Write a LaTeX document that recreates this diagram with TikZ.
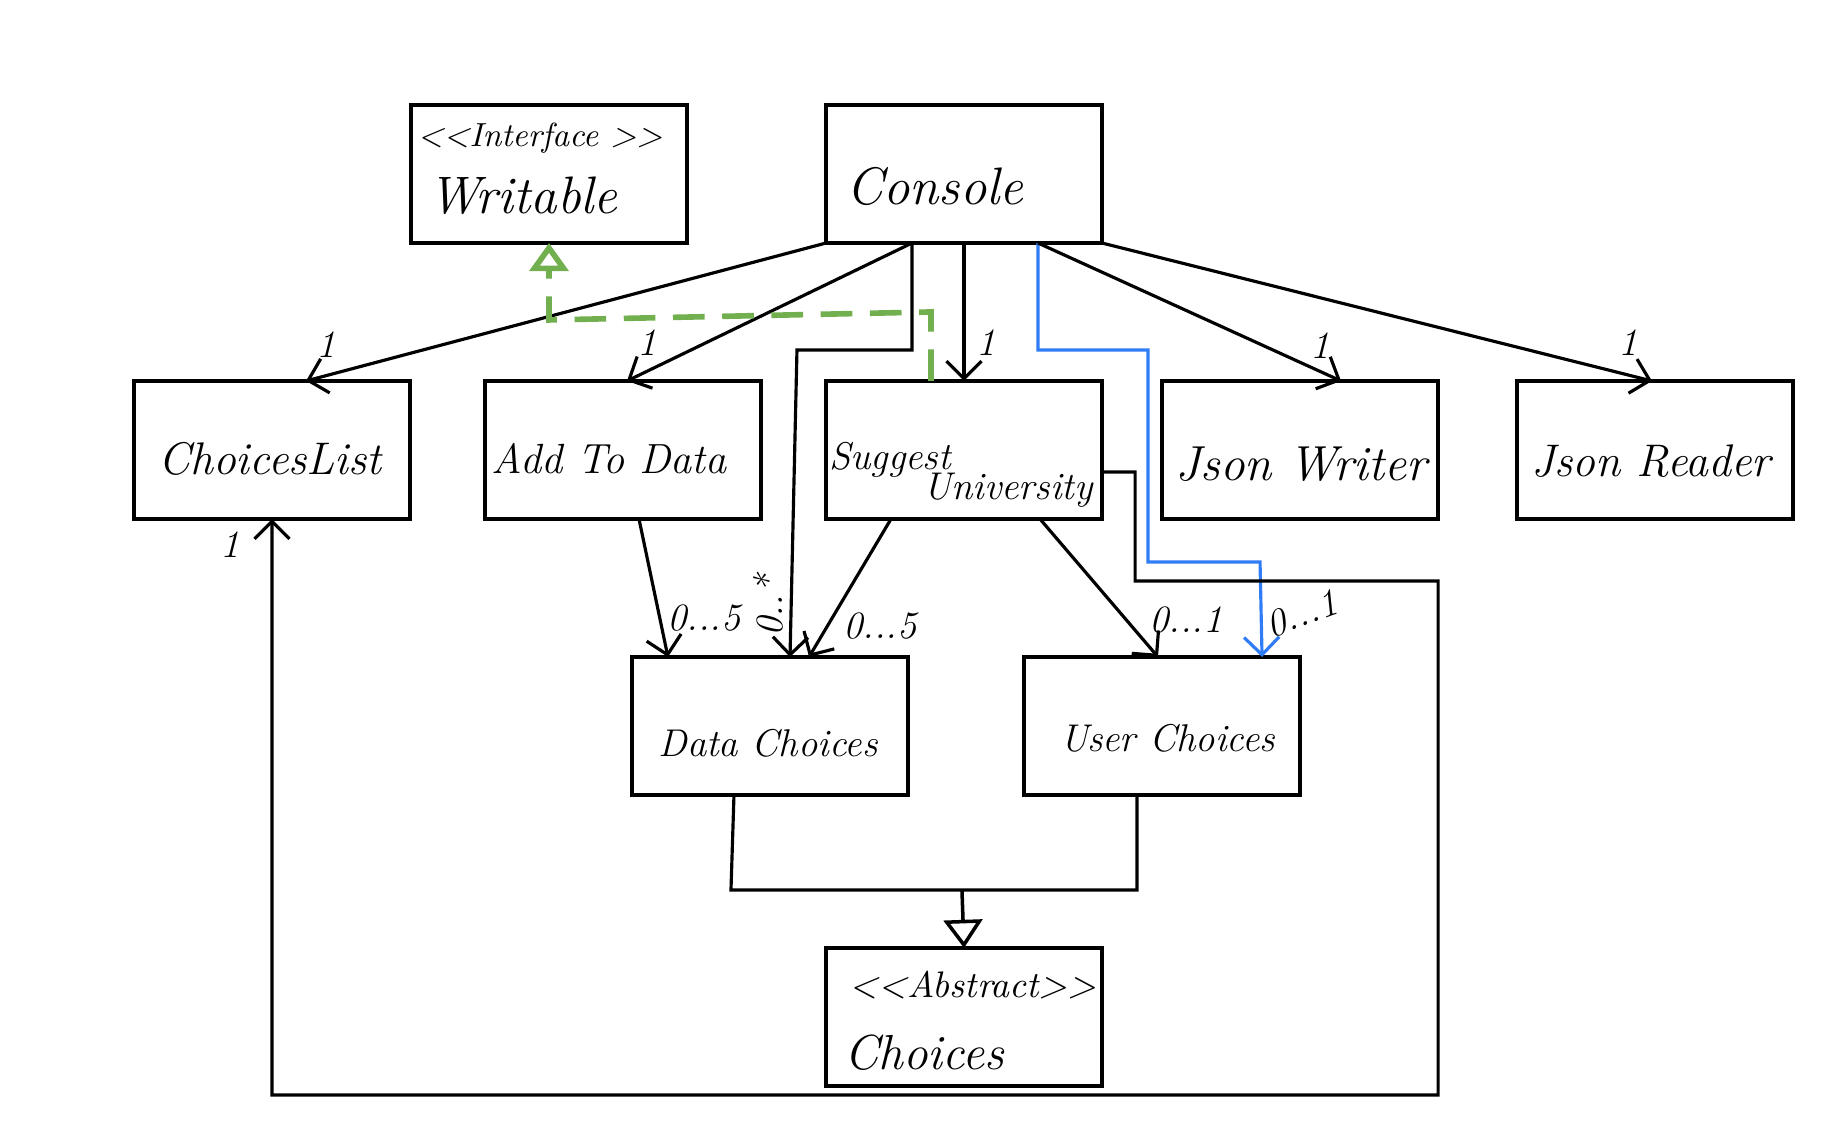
\documentclass[tikz,border=0pt]{standalone}
\usetikzlibrary{arrows.meta,calc}
\definecolor{umlgreen}{HTML}{72B04F}
\definecolor{umlblue}{HTML}{2F7CF6}
\begin{document}
\begin{tikzpicture}[x=0.01cm,y=-0.01cm,
  box/.style={draw,line width=1pt,minimum width=2.76cm,minimum height=1.38cm,inner sep=0,outer sep=0},
  assoc/.style={line width=0.9pt,-{Straight Barb[length=5pt,width=10pt]}},
  link/.style={line width=0.9pt},
  realize/.style={draw=umlgreen,line width=1.6pt,dash pattern=on 9pt off 5pt,
    -{Triangle[open,length=8pt,width=11pt,line width=1.6pt]}},
  inherit/.style={line width=1pt,-{Triangle[open,length=8pt,width=11pt]}},
  mult/.style={font=\fontsize{11}{13}\selectfont\itshape,inner sep=0},
  lbl/.style={inner sep=0},
  fs/.style={font=\fontsize{#1}{#1}\selectfont\itshape}
]
\useasboundingbox (0,0) rectangle (1844,1136);

% class boxes
\node[box] (writable)    at (549,174)  {};
\node[box] (console)     at (964,174)  {};
\node[box] (choiceslist) at (272,450)  {};
\node[box] (addtodata)   at (623,450)  {};
\node[box] (suggest)     at (964,450)  {};
\node[box] (jsonwriter)  at (1300,450) {};
\node[box] (jsonreader)  at (1655,450) {};
\node[box] (datachoices) at (770,726)  {};
\node[box] (userchoices) at (1162,726) {};
\node[box] (choices)     at (964,1017) {};

% class names
\node[lbl,fs=9.5] (twst) at (540,138) {<\kern0pt<Interface >\kern0pt>};
\node[lbl,fs=15] (twn)  at (523,196) {Writable};
\node[lbl,fs=15] (tcon) at (935,186) {Console};
\node[lbl,fs=13] (tcl)  at (270,459) {ChoicesList};
\node[lbl,fs=12] (tad)  at (609,459) {Add To Data};
\node[lbl,fs=11] (tsu1) at (890,460) {Suggest};
\node[lbl,fs=11] (tsu2) at (1008,490) {University};
\node[lbl,fs=14] (tjw)  at (1301,464) {Json Writer};
\node[lbl,fs=13] (tjr)  at (1651,461) {Json Reader};
\node[lbl,fs=11] (tdc)  at (768,743) {Data Choices};
\node[lbl,fs=11] (tuc)  at (1168,738) {User Choices};
\node[lbl,fs=10.5] (tcst) at (973,985) {<\kern0pt<Abstract>\kern0pt>};
\node[lbl,fs=14] (tch)  at (924,1053) {Choices};

% associations from Console
\draw[assoc] (console.south west) -- ([xshift=1.72cm]choiceslist.north west);
\draw[assoc] ([xshift=0.86cm]console.south west) -- ([xshift=1.42cm]addtodata.north west);
\draw[assoc] ([xshift=0.86cm]console.south west) -- ++(0,107) -- ++(-115,0)
  -- ([xshift=1.58cm]datachoices.north west);
\draw[assoc] (console.south) -- (suggest.north);
\draw[assoc,umlblue] ([xshift=2.12cm]console.south west) -- ++(0,107) -- ++(110,0)
  -- ++(0,212) -- ++(112,0) -- ([xshift=2.38cm]userchoices.north west);
\draw[assoc] ([xshift=2.12cm]console.south west) -- ([xshift=1.79cm]jsonwriter.north west);
\draw[assoc] (console.south east) -- ([xshift=1.35cm]jsonreader.north west);

% Suggest University realizes Writable
\draw[realize] ([xshift=1.05cm]suggest.north west) -- ++(0,-69) -- ++(-382,8) -- (writable.south);

% associations to the choice classes
\draw[assoc] ([xshift=1.54cm]addtodata.south west) -- ([xshift=0.36cm]datachoices.north west);
\draw[assoc] ([xshift=0.65cm]suggest.south west) -- ([xshift=1.77cm]datachoices.north west);
\draw[assoc] ([xshift=2.14cm]suggest.south west) -- ([xshift=1.34cm]userchoices.north west);
\draw[assoc] ([yshift=-0.22cm]suggest.east) -- ++(33,0) -- ++(0,109) -- ++(303,0)
  -- ++(0,514) -- ++(-1166,0) -- (choiceslist.south);

% generalization to Choices
\draw[link] ([xshift=1.02cm]datachoices.south west) -- ++(-3,95) -- ++(406,0)
  -- ([xshift=1.13cm]userchoices.south west);
\coordinate (join) at (962,891);
\draw[inherit] (join) -- (choices.north);

% multiplicities
\node[mult] (m1) at (326,345)  {1};
\node[mult] (m2) at (647,343)  {1};
\node[mult] (m3) at (986,343)  {1};
\node[mult] (m4) at (1320,346) {1};
\node[mult] (m5) at (1628,343) {1};
\node[mult] (m6) at (230,545)  {1};
\node[mult] (m7) at (704,618)  {0...5};
\node[mult,rotate=90] (m8) at (768,606) {0..*};
\node[mult] (m9) at (880,626)  {0...5};
\node[mult] (m10) at (1186,620) {0...1};
\node[mult,rotate=20] (m11) at (1302,614) {0...1};
\end{tikzpicture}
\end{document}
